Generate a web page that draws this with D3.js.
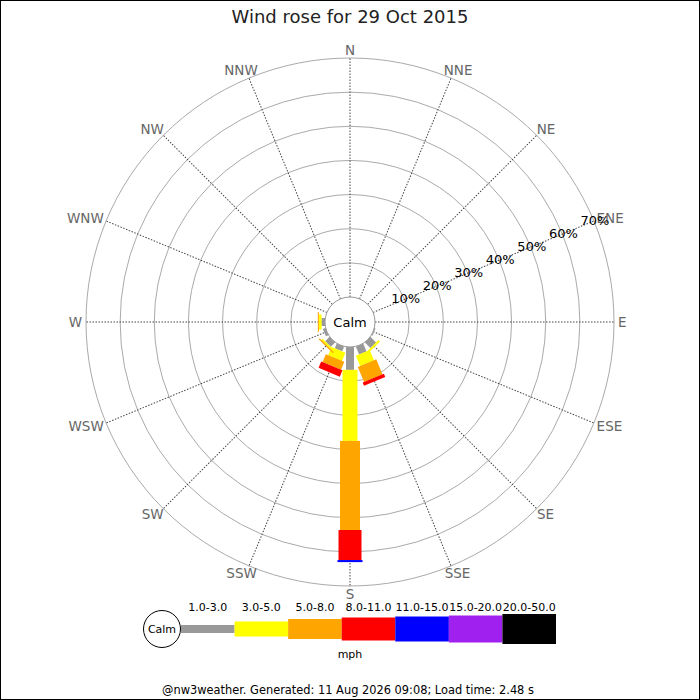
<!DOCTYPE html>
<html lang="en">
<head>
    <meta charset="UTF-8">
    <title>Wind rose</title>
    <script src="https://cdn.jsdelivr.net/npm/d3@7/dist/d3.min.js"></script>
    <style>
        body { margin: 0; background: #fff; }
        svg { font-family: "DejaVu Sans", sans-serif; display: block; }
        .ring { fill: none; stroke: #aaa; stroke-width: 1; }
        .spoke { stroke: #444; stroke-width: 1; stroke-dasharray: 1.5, 1.5; }
        .dirLabel { fill: #666; font-size: 13.5px; }
        .pctLabel { fill: #000; font-size: 13px; }
    </style>
</head>
<body>
<script>
    // compass points, clockwise from north
    const directions = ['N', 'NNE', 'NE', 'ENE', 'E', 'ESE', 'SE', 'SSE',
        'S', 'SSW', 'SW', 'WSW', 'W', 'WNW', 'NW', 'NNW'];

    // speed bands (mph) and their colours
    const speedBands = ['1.0-3.0', '3.0-5.0', '5.0-8.0', '8.0-11.0', '11.0-15.0', '15.0-20.0', '20.0-50.0'];
    const bandColours = ['#999999', '#ffff00', '#ffa500', '#ff0000', '#0000ff', '#a020f0', '#000000'];

    // percentage of the day per direction, one array per speed band
    const pct1to3   = [0, 0, 0, 0, 0, 0.3, 2.3, 2.5, 6.7, 1.5, 1.8, 0.8, 1.0, 0, 0, 0];
    const pct3to5   = [0, 0, 0, 0, 0, 0, 0.6, 3.2, 20.8, 2.6, 0.5, 0, 0.8, 0, 0, 0];
    const pct5to8   = [0, 0, 0, 0, 0, 0, 0, 4.8, 26.1, 2.5, 0.4, 0, 0.3, 0, 0, 0];
    const pct8to11  = [0, 0, 0, 0, 0, 0, 0, 1.0, 8.8, 2.0, 0, 0, 0, 0, 0, 0];
    const pct11to15 = [0, 0, 0, 0, 0, 0, 0, 0, 0.6, 0, 0, 0, 0, 0, 0, 0];
    const pct15to20 = [0, 0, 0, 0, 0, 0, 0, 0, 0, 0, 0, 0, 0, 0, 0, 0];
    const pct20to50 = [0, 0, 0, 0, 0, 0, 0, 0, 0, 0, 0, 0, 0, 0, 0, 0];

    // ring ticks
    const ringTicks = [10, 20, 30, 40, 50, 60, 70];

    const title = 'Wind rose for 29 Oct 2015';
    const footer = '@nw3weather. Generated: 11 Aug 2026 09:08; Load time: 2.48 s';

    const width = 700;
    const height = 700;
    const cx = 350;
    const cy = 322;
    const calmR = 25;

    // band thickness grows with speed
    const bandWidths = [8, 15, 20, 23, 25, 27, 30];

    const bandValues = [pct1to3, pct3to5, pct5to8, pct8to11, pct11to15, pct15to20, pct20to50];

    // table for d3.stack: one row per direction
    let rows = directions.map(function (d, i) {
        let row = {dir: d};
        speedBands.forEach(function (b, k) { row[b] = bandValues[k][i]; });
        return row;
    });
    let stacked = d3.stack().keys(speedBands)(rows);

    let svg = d3.select('body').append('svg')
        .attr('width', width)
        .attr('height', height);

    svg.append('rect')
        .attr('x', 0.5).attr('y', 0.5)
        .attr('width', width - 1).attr('height', height - 1)
        .attr('fill', '#fff').attr('stroke', '#000');

    // radial scale
    let rScale = d3.scaleLinear().domain([0, 70]).range([calmR, 264]);
    let angle = d3.scalePoint().domain(directions).range([0, 337.5]);

    let rose = svg.append('g').attr('transform', 'translate(' + cx + ',' + cy + ')');

    // rings
    rose.selectAll('.ring')
        .data(ringTicks)
        .enter().append('circle')
        .attr('class', 'ring')
        .attr('r', function (d) { return rScale(d); });

    // spokes
    rose.selectAll('.spoke')
        .data(directions)
        .enter().append('line')
        .attr('class', 'spoke')
        .attr('x1', 0).attr('x2', 0)
        .attr('y1', -rScale(0)).attr('y2', -rScale(70))
        .attr('transform', function (d) { return 'rotate(' + angle(d) + ')'; });

    // bars
    stacked.forEach(function (layer, k) {
        let w = bandWidths[k];
        rose.selectAll('.bar' + k)
            .data(layer.filter(function (p) { return p[1] - p[0] > 0; }))
            .enter().append('rect')
            .attr('class', 'bar' + k)
            .attr('x', -w / 2)
            .attr('width', w)
            .attr('y', function (p) { return -rScale(p[1]); })
            .attr('height', function (p) { return rScale(p[1]) - rScale(p[0]); })
            .attr('fill', bandColours[k])
            .attr('transform', function (p) { return 'rotate(' + angle(p.data.dir) + ')'; });
    });

    // calm circle
    rose.append('circle')
        .attr('r', calmR)
        .attr('fill', '#fff')
        .attr('stroke', '#999');
    rose.append('text')
        .attr('text-anchor', 'middle')
        .attr('dy', '0.35em')
        .style('font-size', '13px')
        .text('Calm');

    // direction labels
    let labelR = 272;
    rose.selectAll('.dirLabel')
        .data(directions)
        .enter().append('text')
        .attr('class', 'dirLabel')
        .attr('text-anchor', 'middle')
        .attr('dy', '0.35em')
        .text(function (d) { return d; })
        .each(function (d) {
            let a = angle(d) * Math.PI / 180;
            let tw = this.getComputedTextLength();
            let shift = Math.max(0, tw / 2 - 4) * Math.sin(a);
            d3.select(this)
                .attr('x', labelR * Math.sin(a) + shift)
                .attr('y', -labelR * Math.cos(a));
        });

    // percentage labels along ENE
    let pa = angle('ENE') * Math.PI / 180;
    rose.selectAll('.pctLabel')
        .data(ringTicks)
        .enter().append('text')
        .attr('class', 'pctLabel')
        .attr('text-anchor', 'middle')
        .attr('dy', '0.35em')
        .attr('x', function (d) { return rScale(d) * Math.sin(pa) + 1; })
        .attr('y', function (d) { return -rScale(d) * Math.cos(pa) - 1; })
        .text(function (d) { return d + '%'; });

    // title
    svg.append('text')
        .attr('x', cx).attr('y', 17)
        .attr('dy', '0.35em')
        .attr('text-anchor', 'middle')
        .style('font-size', '18px')
        .attr('fill', '#222')
        .text(title);

    // legend
    let legendX = d3.scaleBand().domain(speedBands).range([181, 556]);
    let legendY = 629;
    let legend = svg.append('g');

    legend.selectAll('.legBar')
        .data(speedBands)
        .enter().append('rect')
        .attr('class', 'legBar')
        .attr('x', function (d) { return legendX(d); })
        .attr('width', legendX.bandwidth())
        .attr('y', function (d, i) { return legendY - bandWidths[i] / 2; })
        .attr('height', function (d, i) { return bandWidths[i]; })
        .attr('fill', function (d, i) { return bandColours[i]; });

    legend.selectAll('.legText')
        .data(speedBands)
        .enter().append('text')
        .attr('class', 'legText')
        .attr('x', function (d) { return legendX(d) + legendX.bandwidth() / 2; })
        .attr('y', 607)
        .attr('dy', '0.35em')
        .attr('text-anchor', 'middle')
        .style('font-size', '11px')
        .text(function (d) { return d; });

    legend.append('circle')
        .attr('cx', 162).attr('cy', legendY)
        .attr('r', 18.5)
        .attr('fill', '#fff')
        .attr('stroke', '#000');
    legend.append('text')
        .attr('x', 162).attr('y', legendY)
        .attr('dy', '0.35em')
        .attr('text-anchor', 'middle')
        .style('font-size', '11px')
        .text('Calm');

    legend.append('text')
        .attr('x', cx).attr('y', 654)
        .attr('dy', '0.35em')
        .attr('text-anchor', 'middle')
        .style('font-size', '11px')
        .text('mph');

    // footer
    svg.append('text')
        .attr('x', 348).attr('y', 690)
        .attr('dy', '0.35em')
        .attr('text-anchor', 'middle')
        .style('font-size', '11.4px')
        .text(footer);
</script>
</body>
</html>
